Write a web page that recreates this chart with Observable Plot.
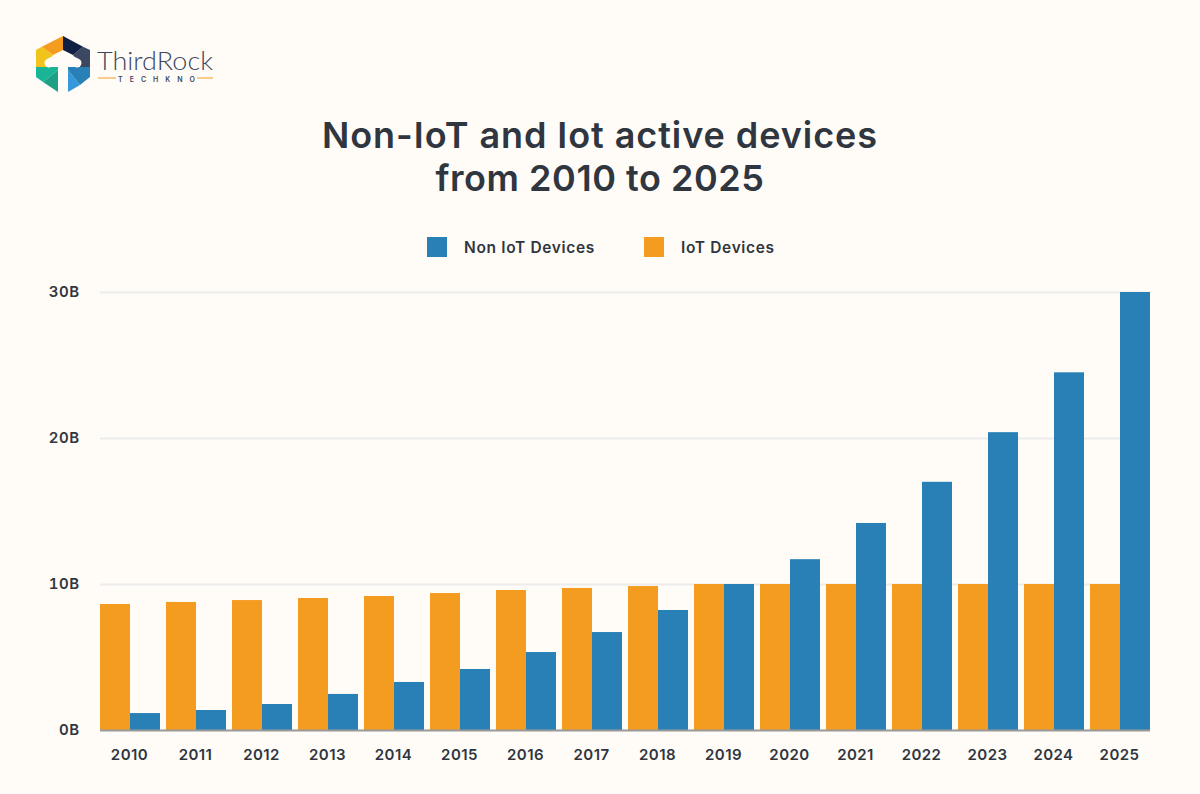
<!DOCTYPE html>
<html>
<head>
<meta charset="utf-8">
<script src="https://cdn.jsdelivr.net/npm/d3@7"></script>
<script src="https://cdn.jsdelivr.net/npm/@observablehq/plot@0.6"></script>
<style>
html,body{margin:0;padding:0;background:#fffcf7;width:1200px;height:794px;overflow:hidden;font-family:Inter,sans-serif;color:#2f3640}
#head{position:relative;width:1200px;height:270px}
#logo{position:absolute;left:0;top:0}
h1{position:absolute;left:0;right:0;top:114px;margin:0;text-align:center;font-size:36px;line-height:43px;font-weight:600;letter-spacing:.55px}
h1 span{letter-spacing:.93px}
.sw{position:absolute;top:237px;width:20px;height:20px}
.lb{position:absolute;top:238px;line-height:20px;font-size:15.5px;font-weight:600;letter-spacing:.65px;white-space:nowrap}
#chart svg{display:block}
</style>
</head>
<body>
<div id="head">
<svg id="logo" width="240" height="110" viewBox="0 0 240 110">
<path d="M63 36L41.7 46.7L53 55L63 50Z" fill="#f39c20"/>
<path d="M41.7 46.7L36 50V67H47L53 55Z" fill="#f2c21d"/>
<path d="M36 67V77L43 82L58 70V67Z" fill="#19b596"/>
<path d="M43 82L58 92V70Z" fill="#1da084"/>
<path d="M68 92L80 85L68 70Z" fill="#3498db"/>
<path d="M68 67H90V77L80 85L68 70Z" fill="#2980b6"/>
<path d="M83 46.7L90 50V67H80L73 55Z" fill="#3c4762"/>
<path d="M63 36L83 46.7L73 55L63 50Z" fill="#0f2044"/>
<path d="M49 63L63 56L77 63" fill="none" stroke="#fffcf7" stroke-width="9" stroke-linecap="round" stroke-linejoin="round"/>
<path d="M63 58V93" stroke="#fffcf7" stroke-width="10"/>
<text x="97" y="70" font-family="Lato" font-weight="300" font-size="25" fill="#3c4762" textLength="116" lengthAdjust="spacingAndGlyphs">ThirdRock</text>
<text x="118" y="82" font-family="Inter" font-weight="600" font-size="7" fill="#3c4762" textLength="77" lengthAdjust="spacing">TECHKNO</text>
<path d="M98 78H116M197 78H213" stroke="#f39c20" stroke-width="1"/>
</svg>
<h1><span>Non-IoT and Iot active devices</span><br>from 2010 to 2025</h1>
<div class="sw" style="left:427px;background:#2980b6"></div>
<div class="lb" style="left:464px">Non IoT Devices</div>
<div class="sw" style="left:644px;background:#f39c20"></div>
<div class="lb" style="left:681px">IoT Devices</div>
</div>
<div id="chart"></div>
<script>
const years = [2010,2011,2012,2013,2014,2015,2016,2017,2018,2019,2020,2021,2022,2023,2024,2025];
const iotDevices = [8.63,8.77,8.9,9.04,9.18,9.38,9.59,9.73,9.86,10,10,10,10,10,10,10];
const nonIotDevices = [1.16,1.37,1.78,2.47,3.29,4.18,5.34,6.71,8.22,10,11.7,14.18,17,20.4,24.5,30];
const seriesNames = ["IoT Devices","Non IoT Devices"];
const seriesColors = ["#f39c20","#2980b6"];
const yTicks = [0,10,20,30];

const rows = (values,series)=>years.map((year,i)=>({year,series,value:values[i]}));

const plot = Plot.plot({
  width:1200,height:524,
  marginLeft:100,marginRight:50,marginTop:22,marginBottom:64,
  style:{background:"transparent",fontFamily:"Inter, sans-serif",fontSize:"15px",fontWeight:600,letterSpacing:"0.45px",color:"#2f3640"},
  x:{domain:years,type:"band",paddingInner:6/66,paddingOuter:0,label:null},
  y:{domain:[0,30],label:null},
  color:{domain:seriesNames,range:seriesColors},
  marks:[
    Plot.ruleY(yTicks.filter(d=>d>0),{stroke:"#ececec",strokeWidth:2}),
    Plot.barY(rows(iotDevices,seriesNames[0]),{x:"year",y:"value",fill:"series",insetRight:30}),
    Plot.barY(rows(nonIotDevices,seriesNames[1]),{x:"year",y:"value",fill:"series",insetLeft:30}),
    Plot.ruleY([0],{stroke:"#999999",strokeWidth:2}),
    Plot.axisY({ticks:yTicks,tickFormat:d=>d+"B",tickSize:0,tickPadding:21,label:null,fill:"#2f3640"}),
    Plot.axisX({tickSize:0,tickPadding:19,label:null,fill:"#2f3640",tickFormat:d=>String(d),dx:-1})
  ]
});
document.getElementById("chart").appendChild(plot);
</script>
</body>
</html>
